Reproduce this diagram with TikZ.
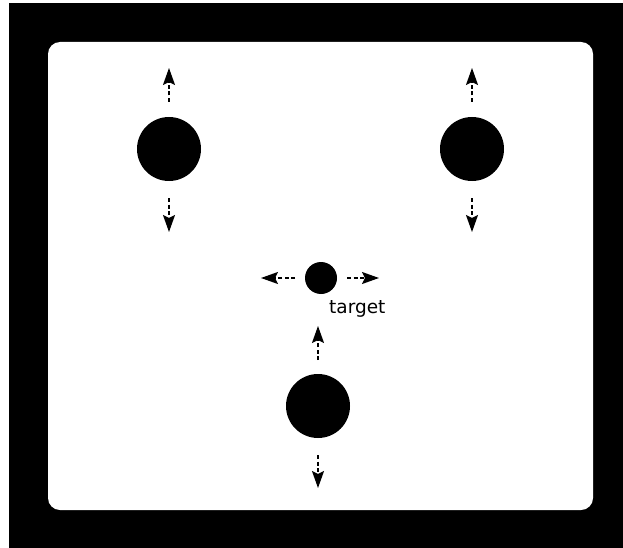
\documentclass[tikz,border=0pt]{standalone}
\usepackage{fontspec}
\setsansfont{DejaVu Sans}
\usetikzlibrary{positioning,arrows.meta}

\begin{document}
\begin{tikzpicture}[
  x=1pt, y=-1pt,
  ball/.style={circle, fill=black, minimum size=64pt, inner sep=0pt},
  smallball/.style={circle, fill=black, minimum size=32pt, inner sep=0pt},
  move/.style={-{Stealth[length=17pt,width=12pt,inset=3pt]}, dash pattern=on 4pt off 2.5pt, line width=1.6pt},
  tag/.style={font=\sffamily\fontsize{18.5}{20}\selectfont, inner sep=0pt}
]
  \useasboundingbox (0,0) rectangle (623,548);
  % frame
  \fill[black] (9,3) rectangle (623,548);
  \fill[white, rounded corners=12pt] (48,42) rectangle (593,510);

  % balls
  \node[ball] (lball) at (169,149) {};
  \node[ball] (rball) at (472,149) {};
  \node[smallball] (target) at (321,278) {};
  \node[ball] (bball) at (318,406) {};
  \node[tag, anchor=base west] (tlabel) at (329,313) {target};

  % arrow ends
  \coordinate (lup0) at (169,102);   \coordinate (lup1) at (169,68);
  \coordinate (ldn0) at (169,198);   \coordinate (ldn1) at (169,232);
  \coordinate (rup0) at (472,102);   \coordinate (rup1) at (472,68);
  \coordinate (rdn0) at (472,198);   \coordinate (rdn1) at (472,232);
  \coordinate (tl0) at (295,278);    \coordinate (tl1) at (261,278);
  \coordinate (tr0) at (347,278);    \coordinate (tr1) at (379,278);
  \coordinate (bup0) at (318,360);   \coordinate (bup1) at (318,326);
  \coordinate (bdn0) at (318,455);   \coordinate (bdn1) at (318,488);

  \draw[move] (lup0) -- (lup1);
  \draw[move] (ldn0) -- (ldn1);
  \draw[move] (rup0) -- (rup1);
  \draw[move] (rdn0) -- (rdn1);
  \draw[move] (tl0) -- (tl1);
  \draw[move] (tr0) -- (tr1);
  \draw[move] (bup0) -- (bup1);
  \draw[move] (bdn0) -- (bdn1);
\end{tikzpicture}
\end{document}
